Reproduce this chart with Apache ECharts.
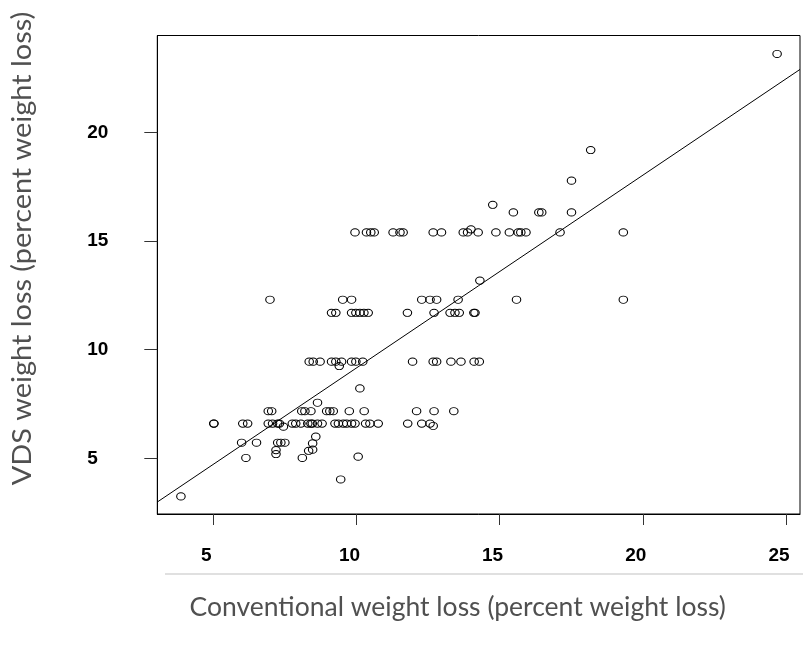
<!DOCTYPE html>
<html>
<head>
<meta charset="utf-8">
<script src="https://cdn.jsdelivr.net/npm/echarts@6/dist/echarts.min.js"></script>
<style>html,body{margin:0;padding:0;background:#fff;}#c{width:803px;height:660px;}</style>
</head>
<body>
<div id="c"></div>
<script>
// Conventional weight loss (x) and VDS weight loss (y)
const conventional = [
  3.87, 9.45,
  6.14, 8.11, 10.06, 7.19, 7.19, 8.33, 8.47,
  5.99, 6.51, 7.25, 7.36, 7.50, 8.47, 8.58,
  5.02, 5.02, 6.03, 6.20, 6.92, 7.07, 7.25, 7.31, 7.76, 7.88, 8.06, 8.30, 8.41, 8.46, 8.64, 8.80,
  9.25, 9.37, 9.54, 9.66, 9.83, 9.95, 10.32, 10.47, 10.76, 11.79, 12.28, 12.57, 7.45, 12.68,
  6.92, 7.04, 8.09, 8.20, 8.41, 8.96, 9.07, 9.19, 9.75, 10.27, 12.10, 12.71, 13.40,
  8.64, 10.12,
  8.35, 8.49, 8.73, 9.13, 9.28, 9.48, 9.83, 9.98, 10.22, 11.96, 12.68, 12.80, 13.30, 13.65, 14.11, 14.29,
  9.40,
  9.13, 9.28, 9.83, 9.98, 10.12, 10.26, 10.41, 11.78, 12.71, 13.27, 13.44, 13.59, 14.10, 14.14,
  6.98, 9.52, 9.83, 12.28, 12.57, 12.80, 13.55, 15.59, 19.32,
  14.31,
  9.95, 10.35, 10.50, 10.62, 11.28, 11.52, 11.63, 12.68, 12.97, 13.73, 13.88, 14.25, 14.87, 15.34, 15.65, 15.74, 15.92, 17.11, 19.32,
  14.00,
  15.48, 16.37, 16.47, 17.51, 14.76, 17.51, 18.18, 24.69
];
const vds = [
  3.25, 4.03,
  5.02, 5.02, 5.08, 5.38, 5.20, 5.35, 5.40,
  5.72, 5.72, 5.72, 5.72, 5.72, 5.69, 6.00,
  6.60, 6.60, 6.60, 6.60, 6.60, 6.60, 6.60, 6.60, 6.60, 6.60, 6.60, 6.60, 6.60, 6.60, 6.60, 6.60,
  6.60, 6.60, 6.60, 6.60, 6.60, 6.60, 6.60, 6.60, 6.60, 6.60, 6.60, 6.60, 6.46, 6.49,
  7.17, 7.17, 7.17, 7.17, 7.17, 7.17, 7.17, 7.17, 7.17, 7.17, 7.17, 7.17, 7.17,
  7.56, 8.22,
  9.45, 9.45, 9.45, 9.45, 9.45, 9.45, 9.45, 9.45, 9.45, 9.45, 9.45, 9.45, 9.45, 9.45, 9.45, 9.45,
  9.25,
  11.70, 11.70, 11.70, 11.70, 11.70, 11.70, 11.70, 11.70, 11.70, 11.70, 11.70, 11.70, 11.70, 11.70,
  12.30, 12.30, 12.30, 12.30, 12.30, 12.30, 12.30, 12.30, 12.30,
  13.18,
  15.40, 15.40, 15.40, 15.40, 15.40, 15.40, 15.40, 15.40, 15.40, 15.40, 15.40, 15.40, 15.40, 15.40, 15.40, 15.40, 15.40, 15.40, 15.40,
  15.54,
  16.32, 16.32, 16.32, 16.32, 16.67, 17.78, 19.19, 23.61
];
// fitted line: vds = intercept + slope * conventional
const lineIntercept = 0.29;
const lineSlope = 0.887;
const xTicks = [5, 10, 15, 20, 25];
const yTicks = [5, 10, 15, 20];
const xTitle = 'Conventional weight loss (percent weight loss)';
const yTitle = 'VDS weight loss (percent weight loss)';

const xMin = 3.045, xMax = 25.49, yMin = 2.44, yMax = 24.46;
const points = conventional.map((x, i) => [x, vds[i]]);
const fitLine = [xMin, xMax].map(x => [x, lineIntercept + lineSlope * x]);

const chart = echarts.init(document.getElementById('c'), null, {renderer: 'canvas'});
const titleFont = 'Lato, "Open Sans", sans-serif';
chart.setOption({
  animation: false,
  backgroundColor: '#fff',
  grid: {left: 157.3, right: 3, top: 35.5, bottom: 146, show: true, borderColor: '#000', borderWidth: 1, backgroundColor: 'transparent'},
  xAxis: {
    type: 'value', min: xMin, max: xMax,
    splitLine: {show: false},
    axisLine: {show: true, lineStyle: {color: '#000', width: 1}},
    axisTick: {show: true, length: 11, lineStyle: {color: '#333', width: 1}, customValues: xTicks},
    axisLabel: {customValues: xTicks, color: '#000', fontFamily: '"Liberation Sans", Arial, sans-serif', fontWeight: 'bold', fontSize: 19,
      margin: 42, verticalAlign: 'middle', padding: [0, 14, 0, 0]}
  },
  yAxis: {
    type: 'value', min: yMin, max: yMax,
    splitLine: {show: false},
    axisLine: {show: true, lineStyle: {color: '#000', width: 1}},
    axisTick: {show: true, length: 13, lineStyle: {color: '#333', width: 1}, customValues: yTicks},
    axisLabel: {customValues: yTicks, color: '#000', fontFamily: '"Liberation Sans", Arial, sans-serif', fontWeight: 'bold', fontSize: 19,
      margin: 70, align: 'left', verticalAlign: 'middle', padding: [30, 0, 0, 0]}
  },
  graphic: [
    {type: 'line', shape: {x1: 165, y1: 574, x2: 803, y2: 574}, style: {stroke: '#d6d6d6', lineWidth: 1.5}, silent: true},
    {type: 'text', x: 189.5, y: 607, style: {text: xTitle, font: '26.5px ' + titleFont, fill: '#505050', textAlign: 'left', textVerticalAlign: 'middle'}},
    {type: 'text', x: 22, y: 248.5, rotation: Math.PI / 2, scaleX: 1.09, style: {text: yTitle, font: '26.5px ' + titleFont, fill: '#505050', textAlign: 'center', textVerticalAlign: 'middle'}}
  ],
  series: [
    {
      type: 'scatter', data: points, symbol: 'circle', symbolSize: [8.5, 7.2],
      itemStyle: {color: 'transparent', borderColor: '#000', borderWidth: 1, opacity: 1}
    },
    {
      type: 'line', data: fitLine, symbol: 'none', silent: true,
      lineStyle: {color: '#000', width: 1}
    }
  ]
});
</script>
</body>
</html>
